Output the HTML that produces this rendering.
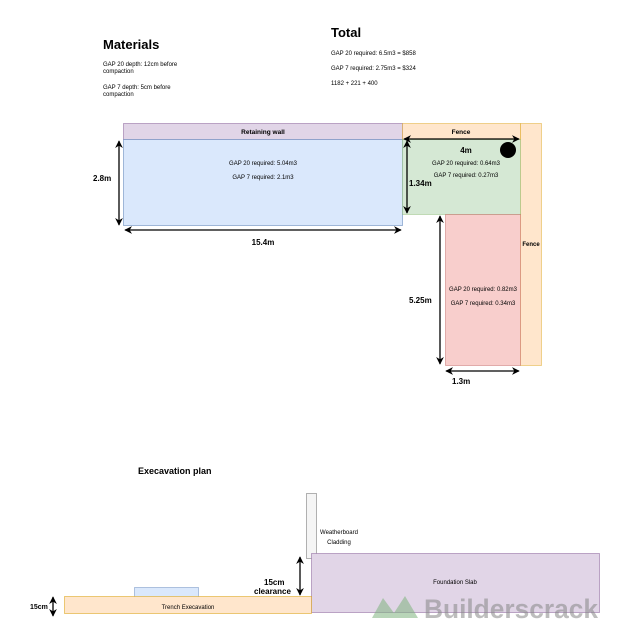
<!DOCTYPE html>
<html><head><meta charset="utf-8"><style>
html,body{margin:0;padding:0;background:#fff;}
svg{display:block;font-family:"Liberation Sans",sans-serif;}
</style></head><body>
<svg width="621" height="644" viewBox="0 0 621 644" xmlns="http://www.w3.org/2000/svg">
<defs>
<marker id="a" viewBox="0 0 10 10" refX="9" refY="5" markerWidth="6" markerHeight="6" orient="auto-start-reverse"><path d="M0,0 L10,5 L0,10 L3,5 z" fill="#000"/></marker>
</defs>
<text x="103" y="49" font-size="13" font-weight="bold">Materials</text>
<text x="103" y="66" font-size="6">GAP 20 depth: 12cm before</text>
<text x="103" y="73" font-size="6">compaction</text>
<text x="103" y="89" font-size="6">GAP 7 depth: 5cm before</text>
<text x="103" y="96" font-size="6">compaction</text>
<text x="331" y="37" font-size="13" font-weight="bold">Total</text>
<text x="331" y="55" font-size="6">GAP 20 required: 6.5m3 = $858</text>
<text x="331" y="70" font-size="6">GAP 7 required: 2.75m3 = $324</text>
<text x="331" y="85" font-size="6">1182 + 221 + 400</text>

<rect x="123.5" y="123.5" width="279" height="16" fill="#e1d5e7" stroke="#9673a6" stroke-width="0.6"/>
<text x="263" y="134" font-size="6.5" font-weight="bold" text-anchor="middle">Retaining wall</text>
<rect x="123.5" y="139.5" width="279" height="86" fill="#dae8fc" stroke="#6c8ebf" stroke-width="0.6"/>
<text x="263" y="165" font-size="6" text-anchor="middle">GAP 20 required:  5.04m3</text>
<text x="263" y="179" font-size="6" text-anchor="middle">GAP 7 required:  2.1m3</text>
<rect x="402.5" y="123.5" width="118" height="16" fill="#ffe6cc" stroke="#d79b00" stroke-width="0.4"/>
<text x="461" y="134" font-size="6.5" font-weight="bold" text-anchor="middle">Fence</text>
<rect x="520.5" y="123.5" width="21" height="242" fill="#ffe6cc" stroke="#d79b00" stroke-width="0.4"/>
<text x="531" y="246" font-size="6" font-weight="bold" text-anchor="middle">Fence</text>
<rect x="402.5" y="139.5" width="118" height="75" fill="#d5e8d4" stroke="#82b366" stroke-width="0.4"/>
<text x="466" y="165" font-size="6" text-anchor="middle">GAP 20 required:  0.64m3</text>
<text x="466" y="177" font-size="6" text-anchor="middle">GAP 7 required:  0.27m3</text>
<rect x="445.5" y="214.5" width="75" height="151" fill="#f8cecc" stroke="#b85450" stroke-width="0.4"/>
<text x="483" y="291" font-size="6" text-anchor="middle">GAP 20 required:  0.82m3</text>
<text x="483" y="305" font-size="6" text-anchor="middle">GAP 7 required:  0.34m3</text>
<circle cx="508" cy="150" r="8" fill="#000"/>

<g stroke="#000" stroke-width="1.3" fill="none">
<line x1="119" y1="141" x2="119" y2="225" marker-start="url(#a)" marker-end="url(#a)"/>
<line x1="125" y1="230" x2="401" y2="230" marker-start="url(#a)" marker-end="url(#a)"/>
<line x1="404" y1="139" x2="519" y2="139" marker-start="url(#a)" marker-end="url(#a)"/>
<line x1="407" y1="141" x2="407" y2="213" marker-start="url(#a)" marker-end="url(#a)"/>
<line x1="440" y1="216" x2="440" y2="364" marker-start="url(#a)" marker-end="url(#a)"/>
<line x1="446" y1="371" x2="519" y2="371" marker-start="url(#a)" marker-end="url(#a)"/>
<line x1="300" y1="557" x2="300" y2="595" marker-start="url(#a)" marker-end="url(#a)"/>
<line x1="53" y1="597" x2="53" y2="616" marker-start="url(#a)" marker-end="url(#a)"/>
</g>
<text x="93" y="181" font-size="8" font-weight="bold">2.8m</text>
<text x="263" y="245" font-size="8" font-weight="bold" text-anchor="middle">15.4m</text>
<text x="466" y="153" font-size="8" font-weight="bold" text-anchor="middle">4m</text>
<text x="409" y="186" font-size="8" font-weight="bold">1.34m</text>
<text x="409" y="303" font-size="8" font-weight="bold">5.25m</text>
<text x="452" y="384" font-size="8" font-weight="bold">1.3m</text>

<text x="138" y="474" font-size="9" font-weight="bold">Execavation plan</text>
<rect x="306.5" y="493.5" width="10" height="65" fill="#f5f5f5" stroke="#666" stroke-width="0.5"/>
<text x="339" y="534" font-size="6" text-anchor="middle">Weatherboard</text>
<text x="339" y="544" font-size="6" text-anchor="middle">Cladding</text>
<rect x="311.5" y="553.5" width="288" height="59" fill="#e1d5e7" stroke="#9673a6" stroke-width="0.6"/>
<text x="455" y="584" font-size="6" text-anchor="middle">Foundation Slab</text>
<rect x="134.5" y="587.5" width="64" height="10" fill="#dae8fc" stroke="#6c8ebf" stroke-width="0.5"/>
<rect x="64.5" y="596.5" width="247" height="17" fill="#ffe6cc" stroke="#d79b00" stroke-width="0.5"/>
<text x="188" y="609" font-size="6" text-anchor="middle">Trench Execavation</text>
<text x="264" y="585" font-size="8" font-weight="bold">15cm</text>
<text x="254" y="594" font-size="8" font-weight="bold">clearance</text>
<text x="30" y="609" font-size="7" font-weight="bold">15cm</text>

<g opacity="0.55">
<path d="M372,618 L383,598 L394,613 L405,596 L418,618 Z" fill="#7fb37f"/>
<text x="424" y="618" font-size="26.5" font-weight="bold" fill="#888" textLength="174" lengthAdjust="spacingAndGlyphs">Builderscrack</text>
</g>
</svg>
</body></html>
